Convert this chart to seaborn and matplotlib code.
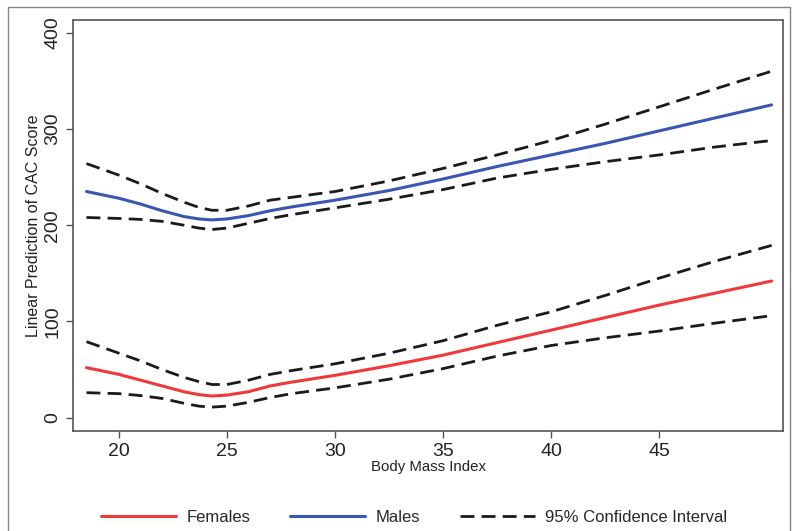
import seaborn as sns
import matplotlib.pyplot as plt
from matplotlib.lines import Line2D

# values
bmi = [18.5, 20, 21, 22, 23, 23.7, 24.3, 25, 26, 27, 28, 30, 32.5, 35, 37.5, 40, 42.5, 45, 47.5, 50.2]

males = [235, 228, 222, 215, 209, 206.5, 205.5, 206.5, 210, 215, 219, 226, 236, 248, 261, 273, 285, 298, 311, 325]
males_hi = [264, 252, 243, 233, 224, 218.5, 215.5, 215.5, 220, 226, 229, 235, 246, 259, 273, 288, 305, 323, 341, 360]
males_lo = [208, 207, 206, 204, 200, 197, 195.5, 197, 202, 207, 211, 218, 227, 237, 249, 258, 266, 273, 281, 288]

females = [52, 45, 39, 33, 27, 24, 22.5, 23.5, 27, 33, 37, 44, 54, 65, 78, 91, 104, 117, 129, 142]
females_hi = [79, 67, 59, 50, 42, 37.5, 34.5, 34.5, 39, 45, 49, 56, 67, 80, 96, 110, 127, 145, 162, 179]
females_lo = [26, 25, 23, 20, 15, 12, 11, 12, 16, 21, 25, 31, 40, 51, 64, 75, 83, 90, 98, 106]

x_ticks = [20, 25, 30, 35, 40, 45]
y_ticks = [0, 100, 200, 300, 400]

sns.set_style('white')
plt.rcParams['font.family'] = ['Liberation Sans', 'DejaVu Sans']

fig = plt.figure(figsize=(7.92, 5.31), dpi=100)
ax = fig.add_axes([0.092, 0.188, 0.897, 0.774])

red = '#f2383a'
blue = '#3a56b5'
dash = (5, 2.6)
ci_kw = dict(color='#1a1a1a', linewidth=2.0, dashes=dash)

sns.lineplot(x=bmi, y=females_hi, ax=ax, **ci_kw)
sns.lineplot(x=bmi, y=females_lo, ax=ax, **ci_kw)
sns.lineplot(x=bmi, y=males_hi, ax=ax, **ci_kw)
sns.lineplot(x=bmi, y=males_lo, ax=ax, **ci_kw)
sns.lineplot(x=bmi, y=females, ax=ax, color=red, linewidth=2.2)
sns.lineplot(x=bmi, y=males, ax=ax, color=blue, linewidth=2.2)

ax.set_xlim(17.87, 50.74)
ax.set_ylim(-14, 413)
ax.set_xticks(x_ticks)
ax.set_yticks(y_ticks)
ax.tick_params(axis='both', direction='out', length=5, width=1, color='#555555',
               labelsize=14, labelcolor='#222222', bottom=True, left=True)
plt.setp(ax.get_yticklabels(), rotation=90, va='center')
for s in ax.spines.values():
    s.set_color('#555555')
    s.set_linewidth(1.2)

ax.set_xlabel('Body Mass Index', fontsize=10.8, color='#222222', labelpad=0)
ax.set_ylabel('Linear Prediction of CAC Score', fontsize=11.5, color='#222222', labelpad=2)

handles = [Line2D([], [], color=red, linewidth=2.2),
           Line2D([], [], color=blue, linewidth=2.2),
           Line2D([], [], color='#1a1a1a', linewidth=2.0, dashes=dash)]
fig.legend(handles, ['Females', 'Males', '95% Confidence Interval'],
           loc='center', bbox_to_anchor=(0.523, 0.026), ncol=3, frameon=False,
           fontsize=12, handlelength=4.5, columnspacing=2.4, handletextpad=0.6)

# outer frame of the figure
border = '#888888'
fig.add_artist(Line2D([8 / 792, 8 / 792], [0, 1 - 7 / 531], color=border, linewidth=1))
fig.add_artist(Line2D([8 / 792, 790 / 792], [1 - 7 / 531, 1 - 7 / 531], color=border, linewidth=1))
fig.add_artist(Line2D([790 / 792, 790 / 792], [0, 1 - 7 / 531], color=border, linewidth=1))

plt.savefig('out.png', dpi=100)
plt.close()
